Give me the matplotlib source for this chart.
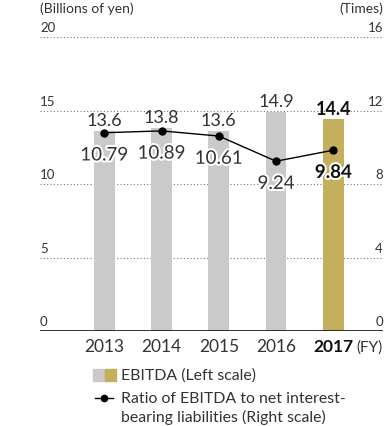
import numpy as np
import matplotlib
matplotlib.use("Agg")
import matplotlib.pyplot as plt
import matplotlib.patheffects as pe
from matplotlib.patches import Rectangle
from matplotlib.lines import Line2D

plt.rcParams['font.family'] = ['Lato', 'DejaVu Sans']

# fiscal years and values
years = ['2013', '2014', '2015', '2016', '2017']
ebitda = [13.6, 13.8, 13.6, 14.9, 14.4]           # billions of yen (left scale)
ratio = [10.79, 10.89, 10.61, 9.24, 9.84]         # times (right scale)
left_ticks = [0, 5, 10, 15, 20]
right_ticks = [0, 4, 8, 12, 16]

gray = '#c9cac9'
gold = '#c4b05c'
txt = '#333333'

fig = plt.figure(figsize=(3.89, 4.27), dpi=100)
ax = fig.add_axes([40 / 389, 95 / 427, 343 / 389, 294 / 427])
x = np.arange(len(years))

# dotted gridlines behind the bars
for t in left_ticks[1:]:
    ax.axhline(t, color='#777777', lw=0.8, ls=(0, (1, 2)), zorder=0)
ax.axhline(0, color='#222222', lw=1.3, zorder=3)

colors = [gray] * 4 + [gold]
ax.bar(x, ebitda, width=0.36, color=colors, zorder=1)
ax.set_xlim(-1.123, 4.868)
ax.set_ylim(0, 20)

for s in ax.spines.values():
    s.set_visible(False)
ax.set_xticks([])
ax.set_yticks([])

# scale labels sit just above each gridline
ytr = ax.get_yaxis_transform()
for lt, rt in zip(left_ticks, right_ticks):
    ax.text(0, lt + 0.25, str(lt), transform=ytr, ha='left', va='bottom',
            fontsize=9.5, color=txt)
    ax.text(1, lt + 0.25, str(rt), transform=ytr, ha='right', va='bottom',
            fontsize=9.5, color=txt)

fig.text(40 / 389, 1 - 9 / 427, '(Billions of yen)', ha='left', va='center',
         fontsize=10, color=txt)
fig.text(383 / 389, 1 - 9 / 427, '(Times)', ha='right', va='center',
         fontsize=10, color=txt)

# year labels
for i, y in enumerate(years):
    last = i == len(years) - 1
    ax.annotate(y, (x[i], 0), xytext=(0, -11), textcoords='offset points',
                ha='center', va='center', fontsize=12.5,
                fontweight='bold' if last else 'normal', color='#111111' if last else txt)
ax.annotate('(FY)', (1, 0), xycoords='axes fraction', xytext=(0, -11),
            textcoords='offset points', ha='right', va='center', fontsize=11, color=txt)

# EBITDA values above bars
for i, v in enumerate(ebitda):
    last = i == len(years) - 1
    ax.annotate(f'{v:.1f}', (x[i], v), xytext=(0, 2), textcoords='offset points',
                ha='center', va='bottom', fontsize=13,
                fontweight='bold' if last else 'normal', color='#111111' if last else txt)

# ratio line on right scale
ax2 = ax.twinx()
ax2.set_ylim(0, 16)
ax2.set_yticks([])
for s in ax2.spines.values():
    s.set_visible(False)
ax2.plot(x, ratio, color='black', lw=1, marker='o', ms=5, zorder=4)
halo = [pe.withStroke(linewidth=3, foreground='white')]
for i, v in enumerate(ratio):
    last = i == len(years) - 1
    ax2.annotate(f'{v:.2f}', (x[i], v), xytext=(0, -16), textcoords='offset points',
                 ha='center', va='center', fontsize=13.5,
                 fontweight='bold' if last else 'normal',
                 color='#111111' if last else txt, path_effects=halo, zorder=5)

# legend drawn by hand
fig.patches.append(Rectangle((93 / 389, 1 - 382 / 427), 11.5 / 389, 12 / 427,
                             transform=fig.transFigure, color=gray))
fig.patches.append(Rectangle((104.5 / 389, 1 - 382 / 427), 11.5 / 389, 12 / 427,
                             transform=fig.transFigure, color=gold))
fig.text(121 / 389, 1 - 376 / 427, 'EBITDA (Left scale)', ha='left', va='center',
         fontsize=11.4, color=txt)
fig.lines.append(Line2D([95 / 389, 113 / 389], [1 - 399 / 427, 1 - 399 / 427],
                        transform=fig.transFigure, color='black', lw=1))
fig.lines.append(Line2D([104 / 389], [1 - 399 / 427], transform=fig.transFigure,
                        color='black', marker='o', ms=4.5))
fig.text(121 / 389, 1 - 399 / 427, 'Ratio of EBITDA to net interest-', ha='left',
         va='center', fontsize=11.4, color=txt)
fig.text(121 / 389, 1 - 417 / 427, 'bearing liabilities (Right scale)', ha='left',
         va='center', fontsize=11.4, color=txt)

fig.savefig('out.png', dpi=100)
